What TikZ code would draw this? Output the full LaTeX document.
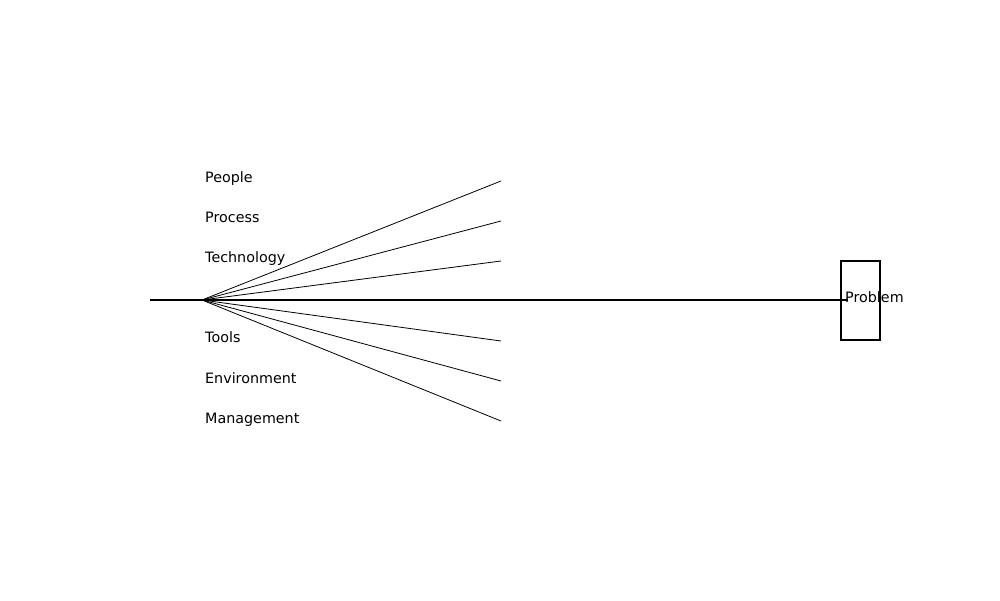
\documentclass[tikz,border=0pt]{standalone}
\usepackage{fontspec}
\setmainfont{DejaVu Sans}
\usetikzlibrary{positioning}
\tikzset{
  spine/.style={line width=2.6pt,draw=black},
  bone/.style={line width=0.8pt,draw=black},
  causelabel/.style={anchor=base west,inner sep=0pt,font=\fontsize{14.3}{16}\selectfont},
  effectbox/.style={draw=black,line width=1.6pt,minimum width=39pt,minimum height=79pt,inner sep=0pt},
}
\begin{document}
\begin{tikzpicture}[x=1pt,y=1pt]
  \useasboundingbox (0,0) rectangle (1000,600);
  % effect box and its label
  \node[effectbox] (prob) at (860.5,299.5) {};
  \node[causelabel] (problabel) at (845,297) {Problem};
  % spine
  \coordinate (tail) at (150,300);
  \coordinate (head) at (848,300);
  \draw[spine] (tail) -- (head);
  % bones
  \coordinate (hub) at (202,300);
  \foreach \name/\ty in {people/419,process/379,tech/339,tools/259,env/219,mgmt/179}{
    \coordinate (\name end) at (501,\ty);
    \draw[bone] (hub) -- (\name end);
  }
  % cause labels
  \foreach \name/\txt/\ty in {people/People/417,process/Process/377,tech/Technology/337,
                              tools/Tools/257,env/Environment/217,mgmt/Management/177}{
    \node[causelabel] (\name) at (205,\ty) {\txt};
  }
\end{tikzpicture}
\end{document}
